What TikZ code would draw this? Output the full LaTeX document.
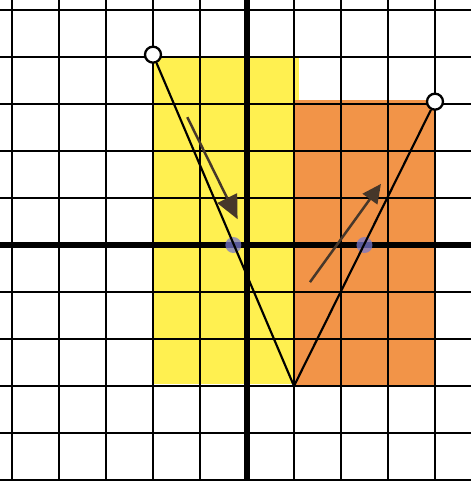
\documentclass[tikz,border=0pt]{standalone}
\usetikzlibrary{arrows.meta}
\definecolor{markeryellow}{RGB}{255,240,80}
\definecolor{markerorange}{RGB}{242,148,72}
\definecolor{pencilbrown}{RGB}{70,55,42}
\definecolor{dotblue}{RGB}{120,120,205}
\tikzset{
  grid lines/.style={draw=black,line width=1.7pt},
  axis lines/.style={draw=black,line width=3.1pt},
  graph line/.style={draw=black,line width=1.3pt},
  open dot/.style={circle,draw=black,line width=1.4pt,fill=white,inner sep=0pt,minimum size=0.34cm},
  intercept dot/.style={circle,fill=dotblue,opacity=0.75,inner sep=0pt,minimum size=0.34cm},
  hint arrow/.style={draw=pencilbrown,line width=1.5pt,-{Triangle[length=5mm,width=4.6mm]}}
}

\begin{document}
\begin{tikzpicture}
        \useasboundingbox (-5.255,-5.021) rectangle (4.766,5.213);
        % shaded regions
        \fill[markeryellow] (-2,-2.95) rectangle (1.1,3.98);
        \fill[markerorange] (1,-3) rectangle (4.02,3.08);

        % grid and axes
        \draw[grid lines] (-5.255,-5.021) grid (4.766,5.213);
        \draw[axis lines] (-5.255,0) -- (4.766,0);
        \draw[axis lines] (0,-5.021) -- (0,5.213);

        % x-intercepts
        \node[intercept dot] (xl) at (-0.29,0) {};
        \node[intercept dot] (xr) at (2.5,0) {};

        % the V
        \node[open dot] (pl) at (-2,4.05) {};
        \node[open dot] (pr) at (4,3.05) {};
        \coordinate (vtx) at (1,-3);
        \draw[graph line] (pl) -- (vtx) -- (pr);

        % direction arrows
        \coordinate (al) at (-1.27,2.72);
        \coordinate (bl) at (-0.2,0.55);
        \coordinate (ar) at (1.34,-0.79);
        \coordinate (br) at (2.85,1.3);
        \draw[hint arrow] (al) -- (bl);
        \draw[hint arrow,-{Triangle[length=4mm,width=3.8mm]}] (ar) -- (br);
      \end{tikzpicture}
\end{document}
